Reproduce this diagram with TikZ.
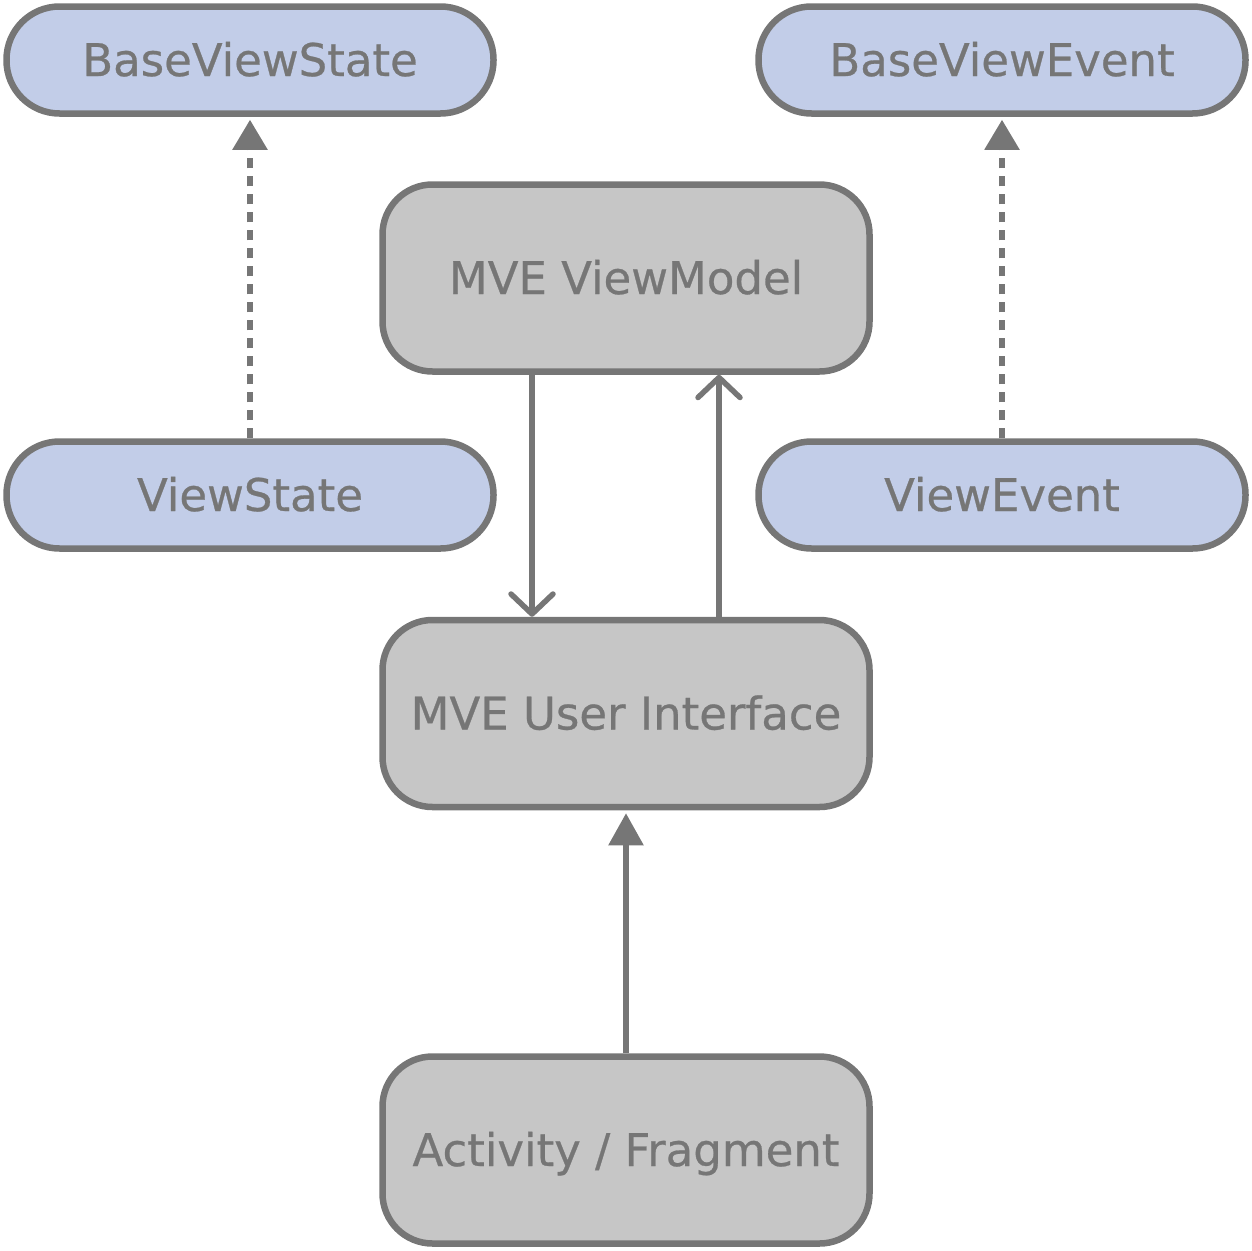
\documentclass[tikz,border=0pt]{standalone}
\usepackage{fontspec}
\setmainfont[FakeBold=0.6]{DejaVu Sans}
\usetikzlibrary{arrows.meta}
\definecolor{edge}{HTML}{767676}
\definecolor{bluefill}{HTML}{C2CDE8}
\definecolor{greyfill}{HTML}{C6C6C6}
\tikzset{
  lbl/.style={text=edge, font=\fontsize{45}{50}\selectfont, inner sep=0pt, text height=32pt, text depth=0pt},
  pill/.style={lbl, draw=edge, line width=6.5pt, fill=bluefill, minimum width=487pt, minimum height=107pt, rounded corners=53pt},
  box/.style={lbl, draw=edge, line width=6.5pt, fill=greyfill, minimum width=487pt, minimum height=187pt, rounded corners=50pt},
  conn/.style={draw=edge, line width=5.5pt},
  dconn/.style={conn, dash pattern=on 10pt off 8pt, -{Triangle[width=34pt,length=30pt]}, shorten >=3pt},
  fconn/.style={conn, -{Triangle[width=34pt,length=32pt]}, shorten >=3pt},
  oconn/.style={conn, -{Straight Barb[width=42pt,length=20pt,round]}},
}
\begin{document}
\begin{tikzpicture}[x=1pt,y=-1pt]
\useasboundingbox (0,0) rectangle (1252,1250);
\node[pill] (bvs) at (250,60) {BaseViewState};
\node[pill] (bve) at (1002,60) {BaseViewEvent};
\node[pill] (vs) at (250,495) {ViewState};
\node[pill] (ve) at (1002,495) {ViewEvent};
\node[box] (vm) at (626,278) {MVE ViewModel};
\node[box] (ui) at (626,713.5) {MVE User Interface};
\node[box] (af) at (626,1150) {Activity / Fragment};
\draw[dconn] (vs.north) -- (bvs.south);
\draw[dconn] (ve.north) -- (bve.south);
\draw[oconn] (vm.south -| 532,0) -- (ui.north -| 532,0);
\draw[oconn] (ui.north -| 719,0) -- (vm.south -| 719,0);
\draw[fconn] (af.north) -- (ui.south);
\end{tikzpicture}
\end{document}
